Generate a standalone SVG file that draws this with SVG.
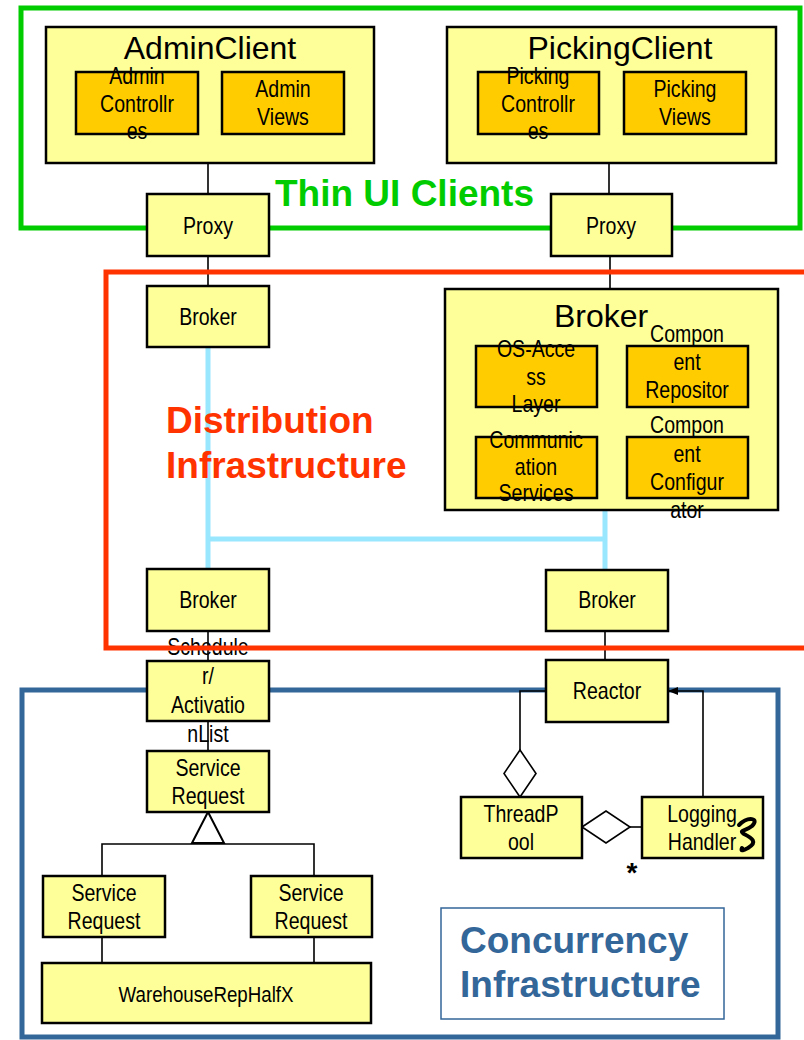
<svg xmlns="http://www.w3.org/2000/svg" width="804" height="1040" viewBox="0 0 804 1040">
<style>
.n{fill:#ffff99;stroke:#000;stroke-width:2.5}
.c{fill:#ffcc00;stroke:#000;stroke-width:2.5}
.t{font-family:"Liberation Sans",Arial,sans-serif;font-size:23px;fill:#000;text-anchor:middle;transform-box:fill-box;transform-origin:center;transform:scaleX(0.85)}
.tt{font-family:"Liberation Sans",Arial,sans-serif;font-size:32px;fill:#000;text-anchor:middle}
.lbl{font-family:"Liberation Sans",Arial,sans-serif;font-size:37px;font-weight:bold}
.ln{fill:none;stroke:#000;stroke-width:1.6}
.cy{fill:none;stroke:#99e6ff;stroke-width:5}
</style>
<defs>
<marker id="ah" viewBox="0 0 10 10" refX="10" refY="5" markerWidth="10" markerHeight="10" markerUnits="userSpaceOnUse" orient="auto">
<path d="M0,1 L10,5 L0,9 z" fill="#000"/>
</marker>
<marker id="ahs" viewBox="0 0 10 10" refX="10" refY="5" markerWidth="7" markerHeight="7" markerUnits="userSpaceOnUse" orient="auto">
<path d="M0,1 L10,5 L0,9 z" fill="#000"/>
</marker>
</defs>
<rect width="804" height="1040" fill="#fff"/>
<!-- frames -->
<g id="frames">
<rect x="21" y="8" width="779" height="220" fill="none" stroke="#00cc00" stroke-width="5"/>
<rect x="22" y="690" width="756" height="347" fill="none" stroke="#336699" stroke-width="5"/>
</g>
<!-- connectors -->
<g id="connectors">
<path class="ln" d="M208,163 V194 M208,256 V286 M609,163 V194 M610,256 V289 M208,631 V661 M208,721 V751 M605,631 V660"/>
<path class="cy" d="M208,347 V569 M208,539 H605 M605,510 V570"/>
<path class="ln" d="M687,407 V437" marker-end="url(#ahs)"/>
<path class="ln" d="M546,691 H520 V750"/>
<path d="M520,750 L536,773.5 L520,797 L504,773.5 Z" fill="#fff" stroke="#000" stroke-width="1.6"/>
<path class="ln" d="M703,797 V691 H668" marker-end="url(#ah)"/>
<path d="M582,827 L606,811 L630,827 L606,843 Z" fill="#fff" stroke="#000" stroke-width="1.6"/>
<path class="ln" d="M630,827 H642"/>
<path d="M208,812 L224,843 L192,843 Z" fill="#fff" stroke="#000" stroke-width="2"/>
<path class="ln" d="M102,876 V844 H314 V876 M102,937 V963 M314,937 V963"/>
</g>
<!-- nodes -->
<g id="adminClient">
<rect class="n" x="46" y="27" width="328" height="136"/>
<text class="tt" x="210" y="59">AdminClient</text>
</g>
<g id="adminControllers">
<rect class="c" x="76" y="72" width="122" height="62"/>
<text class="t" x="137" y="84">Admin</text>
<text class="t" x="137" y="112">Controllr</text>
<text class="t" x="137" y="139">es</text>
</g>
<g id="adminViews">
<rect class="c" x="222" y="72" width="122" height="62"/>
<text class="t" x="283" y="97">Admin</text>
<text class="t" x="283" y="125">Views</text>
</g>
<g id="pickingClient">
<rect class="n" x="447" y="27" width="329" height="136"/>
<text class="tt" x="620" y="59">PickingClient</text>
</g>
<g id="pickingControllers">
<rect class="c" x="478" y="72" width="121" height="62"/>
<text class="t" x="538" y="84">Picking</text>
<text class="t" x="538" y="112">Controllr</text>
<text class="t" x="538" y="139">es</text>
</g>
<g id="pickingViews">
<rect class="c" x="624" y="72" width="122" height="62"/>
<text class="t" x="685" y="97">Picking</text>
<text class="t" x="685" y="125">Views</text>
</g>
<g id="proxyLeft">
<rect class="n" x="147" y="194" width="122" height="62"/>
<text class="t" x="208" y="234">Proxy</text>
</g>
<g id="proxyRight">
<rect class="n" x="551" y="194" width="121" height="62"/>
<text class="t" x="611" y="234">Proxy</text>
</g>
<g id="brokerTopLeft">
<rect class="n" x="147" y="286" width="122" height="61"/>
<text class="t" x="208" y="325">Broker</text>
</g>
<g id="brokerBig">
<rect class="n" x="445" y="289" width="333" height="221"/>
<text class="tt" x="601" y="327">Broker</text>
</g>
<g id="osAccess">
<rect class="c" x="476" y="346" width="121" height="61"/>
<text class="t" x="536" y="357">OS-Acce</text>
<text class="t" x="536" y="385">ss</text>
<text class="t" x="536" y="412">Layer</text>
</g>
<g id="compRepository">
<rect class="c" x="627" y="346" width="121" height="61"/>
<text class="t" x="687" y="342">Compon</text>
<text class="t" x="687" y="370">ent</text>
<text class="t" x="687" y="398">Repositor</text>
</g>
<g id="commServices">
<rect class="c" x="476" y="437" width="121" height="61"/>
<text class="t" x="536" y="448">Communic</text>
<text class="t" x="536" y="475">ation</text>
<text class="t" x="536" y="501">Services</text>
</g>
<g id="compConfigurator">
<rect class="c" x="627" y="437" width="121" height="61"/>
<text class="t" x="687" y="433">Compon</text>
<text class="t" x="687" y="462">ent</text>
<text class="t" x="687" y="490">Configur</text>
<text class="t" x="687" y="518">ator</text>
</g>
<g id="brokerBottomLeft">
<rect class="n" x="147" y="569" width="122" height="62"/>
<text class="t" x="208" y="608">Broker</text>
</g>
<g id="brokerBottomRight">
<rect class="n" x="546" y="570" width="122" height="61"/>
<text class="t" x="607" y="608">Broker</text>
</g>
<g id="scheduler">
<rect class="n" x="147" y="661" width="122" height="60"/>
<text class="t" x="208" y="655">Schedule</text>
<text class="t" x="208" y="684">r/</text>
<text class="t" x="208" y="713">Activatio</text>
<text class="t" x="208" y="742">nList</text>
</g>
<g id="reactor">
<rect class="n" x="546" y="660" width="122" height="62"/>
<text class="t" x="607" y="699">Reactor</text>
</g>
<g id="serviceRequestTop">
<rect class="n" x="147" y="751" width="122" height="61"/>
<text class="t" x="208" y="776">Service</text>
<text class="t" x="208" y="804">Request</text>
</g>
<g id="threadPool">
<rect class="n" x="461" y="797" width="121" height="61"/>
<text class="t" x="521" y="822">ThreadP</text>
<text class="t" x="521" y="850">ool</text>
</g>
<g id="loggingHandler">
<rect class="n" x="642" y="797" width="121" height="61"/>
<text class="t" x="702" y="822">Logging</text>
<text class="t" x="702" y="850">Handler</text>
<path d="M739,825 C748,816 760,818 752,826 C746,831 738,830 744,834 C752,838 758,842 748,848 C744,850 740,852 742,848" fill="none" stroke="#000" stroke-width="4" stroke-linecap="round"/>
</g>
<text id="star" x="632" y="882" font-family="Liberation Sans, Arial, sans-serif" font-size="28" font-weight="bold" text-anchor="middle">*</text>
<g id="serviceRequestLeft">
<rect class="n" x="43" y="876" width="122" height="61"/>
<text class="t" x="104" y="901">Service</text>
<text class="t" x="104" y="929">Request</text>
</g>
<g id="serviceRequestRight">
<rect class="n" x="251" y="876" width="121" height="61"/>
<text class="t" x="311" y="901">Service</text>
<text class="t" x="311" y="929">Request</text>
</g>
<g id="warehouse">
<rect class="n" x="42" y="963" width="329" height="60"/>
<text class="t" x="206" y="1002" style="font-size:22px">WarehouseRepHalfX</text>
</g>
<!-- red frame on top -->
<rect x="106" y="272" width="720" height="376" fill="none" stroke="#ff3300" stroke-width="5"/>
<!-- labels -->
<text class="lbl" x="275" y="206" fill="#00cc00">Thin UI Clients</text>
<text class="lbl" x="166" y="433" fill="#ff3300">Distribution</text>
<text class="lbl" x="166" y="478" fill="#ff3300">Infrastructure</text>
<g id="concurrencyLabel">
<rect x="441" y="908" width="283" height="111" fill="#fff" stroke="#336699" stroke-width="1.5"/>
<text class="lbl" x="460" y="953" fill="#336699">Concurrency</text>
<text class="lbl" x="460" y="997" fill="#336699">Infrastructure</text>
</g>
</svg>
